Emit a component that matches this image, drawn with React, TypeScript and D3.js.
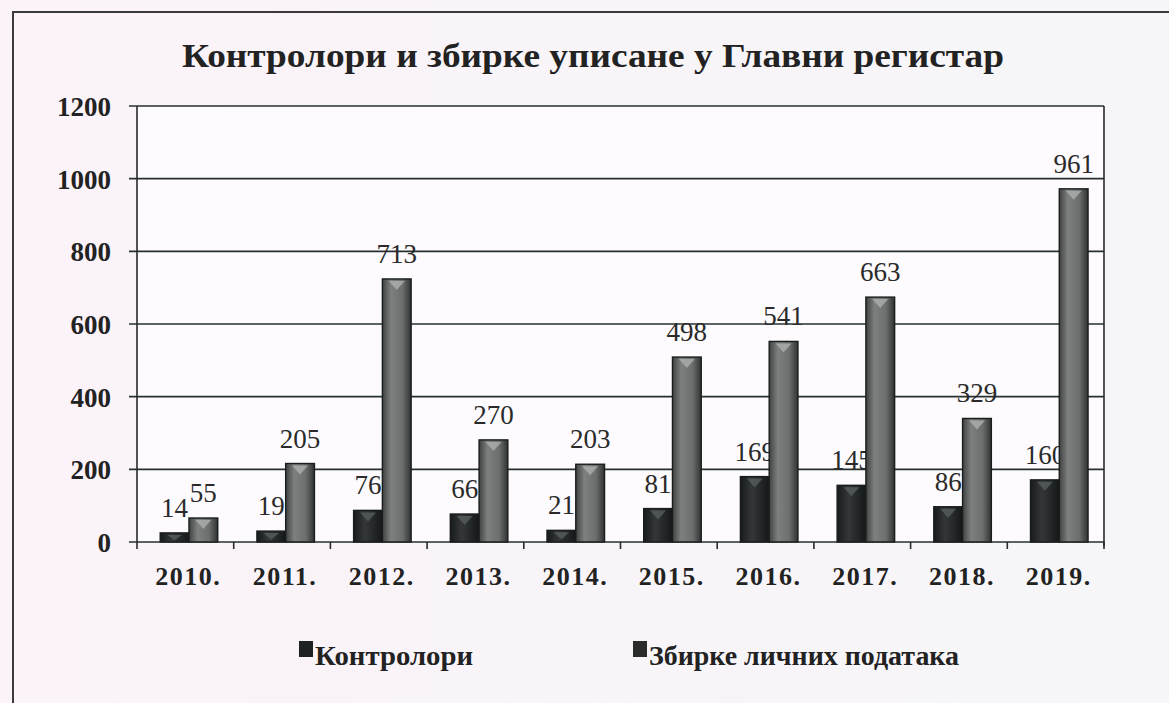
import { useEffect } from 'react'
import * as d3 from 'd3'

const years = ['2010.', '2011.', '2012.', '2013.', '2014.', '2015.', '2016.', '2017.', '2018.', '2019.']
const kontrolori = [14, 19, 76, 66, 21, 81, 169, 145, 86, 160]
const zbirke = [55, 205, 713, 270, 203, 498, 541, 663, 329, 961]
const yTicks = [0, 200, 400, 600, 800, 1000, 1200]
const seriesNames = ['Контролори', 'Збирке личних података']
const title = 'Контролори и збирке уписане у Главни регистар'

const W = 1169
const H = 703
const margin = { top: 106, right: 65, bottom: 161, left: 137 }
const font = '"Liberation Serif", "DejaVu Serif", serif'

export default function App() {
  useEffect(() => {
    document.body.style.margin = '0'
  }, [])

  const x0 = d3
    .scaleBand<string>()
    .domain(years)
    .range([margin.left, W - margin.right])
    .padding(0)
  const bw = x0.bandwidth()
  const x1 = d3
    .scaleBand<string>()
    .domain(['k', 'z'])
    .range([bw * 0.24, bw * 0.835])
    .padding(0)
  const y = d3
    .scaleLinear()
    .domain([0, 1200])
    .range([H - margin.bottom, margin.top])

  const barW = x1.bandwidth()
  const y0 = y(0)

  // bar with little inverted-triangle cap like the 3D original
  const bar = (yr: string, key: string, v: number, fill: string, cap: string) => {
    const bx = (x0(yr) ?? 0) + (x1(key) ?? 0)
    const by = y(v) - 4
    const h = y0 - by
    const tw = Math.min(barW * 0.55, h * 1.6)
    const th = Math.min(9, h * 0.6)
    return (
      <g key={key + yr}>
        <rect x={bx} y={by} width={barW} height={h} fill={fill} stroke="#1a1d1d" strokeWidth={1.4} />
        <path
          d={`M${bx + barW / 2 - tw / 2},${by + 2} L${bx + barW / 2 + tw / 2},${by + 2} L${bx + barW / 2},${by + 2 + th} Z`}
          fill={cap}
          opacity={0.85}
        />
      </g>
    )
  }

  const label = (yr: string, key: string, v: number) => {
    const cx = (x0(yr) ?? 0) + (x1(key) ?? 0) + barW / 2
    return (
      <text
        key={'l' + key + yr}
        x={cx}
        y={y(v) - 20}
        textAnchor="middle"
        fontSize={27}
        fill="#2a2a2a"
        fontFamily={font}
      >
        {v}
      </text>
    )
  }

  return (
    <svg
      width={W}
      height={H}
      style={{ display: 'block', position: 'absolute', left: 0, top: 0, background: '#fbf6fa' }}
    >
      <defs>
        <linearGradient id="gDark" x1="0" x2="1" y1="0" y2="0">
          <stop offset="0%" stopColor="#181b1b" />
          <stop offset="40%" stopColor="#333737" />
          <stop offset="100%" stopColor="#151818" />
        </linearGradient>
        <linearGradient id="gGrey" x1="0" x2="1" y1="0" y2="0">
          <stop offset="0%" stopColor="#404242" />
          <stop offset="30%" stopColor="#7e8080" />
          <stop offset="70%" stopColor="#6c6e6e" />
          <stop offset="100%" stopColor="#303232" />
        </linearGradient>
        <linearGradient id="bg" x1="0" x2="1" y1="0" y2="0">
          <stop offset="0%" stopColor="#fbf3f9" />
          <stop offset="100%" stopColor="#f6f6f8" />
        </linearGradient>
      </defs>
      <rect x={0} y={0} width={W} height={H} fill="url(#bg)" />

      {/* outer chart border (only left and top visible in the scan) */}
      <rect x={13} y={12} width={W + 50} height={H + 50} fill="none" stroke="#3a3a3a" strokeWidth={2} />

      <text
        x={593}
        y={67}
        textAnchor="middle"
        fontSize={33}
        fontWeight="bold"
        fontFamily={font}
        fill="#222"
        textLength={822}
        lengthAdjust="spacingAndGlyphs"
      >
        {title}
      </text>

      {/* plot area */}
      <rect x={margin.left} y={margin.top} width={W - margin.left - margin.right} height={y0 - margin.top} fill="#fdfbfd" />
      {yTicks.map(t => (
        <g key={'y' + t}>
          <line x1={margin.left - 8} x2={W - margin.right} y1={y(t)} y2={y(t)} stroke="#263030" strokeWidth={1.6} />
          <text
            x={111}
            y={y(t) + 10}
            textAnchor="end"
            fontSize={27}
            fontWeight="bold"
            fontFamily={font}
            fill="#222"
          >
            {t}
          </text>
        </g>
      ))}
      <line x1={margin.left} x2={margin.left} y1={margin.top} y2={y0 + 7} stroke="#2a2a2a" strokeWidth={1.6} />
      <line x1={W - margin.right} x2={W - margin.right} y1={margin.top} y2={y0 + 4} stroke="#2a2a2a" strokeWidth={1.6} />
      {years.map(yr => (
        <line
          key={'t' + yr}
          x1={(x0(yr) ?? 0) + bw}
          x2={(x0(yr) ?? 0) + bw}
          y1={y0}
          y2={y0 + 7}
          stroke="#2a2a2a"
          strokeWidth={1.6}
        />
      ))}

      {/* dark bars and their labels first, grey bars overlap them */}
      {years.map((yr, i) => bar(yr, 'k', kontrolori[i], 'url(#gDark)', '#555959'))}
      {years.map((yr, i) => label(yr, 'k', kontrolori[i]))}
      {years.map((yr, i) => bar(yr, 'z', zbirke[i], 'url(#gGrey)', '#aaacac'))}
      {years.map((yr, i) => label(yr, 'z', zbirke[i]))}

      {years.map(yr => (
        <text
          key={'x' + yr}
          x={(x0(yr) ?? 0) + bw / 2 + 3}
          y={585}
          textAnchor="middle"
          fontSize={26}
          fontWeight="bold"
          fontFamily={font}
          fill="#222"
          letterSpacing={1.5}
        >
          {yr}
        </text>
      ))}

      {/* legend */}
      {seriesNames.map((name, i) => {
        const lx = i === 0 ? 299 : 633
        return (
          <g key={name}>
            <rect x={lx} y={641} width={14} height={16} fill={i === 0 ? '#1e2121' : '#2a2c2c'} />
            <text
              x={lx + 16}
              y={665}
              fontSize={27}
              fontWeight="bold"
              fontFamily={font}
              fill="#222"
              textLength={i === 0 ? 158 : 310}
              lengthAdjust="spacingAndGlyphs"
            >
              {name}
            </text>
          </g>
        )
      })}
    </svg>
  )
}
